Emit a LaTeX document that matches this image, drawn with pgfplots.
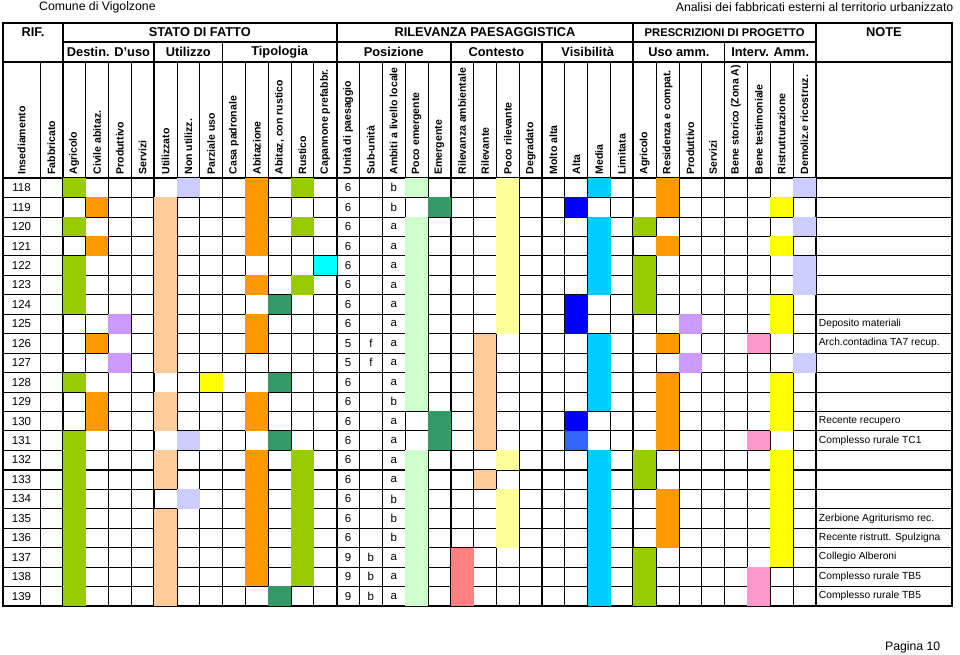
\documentclass[border=0pt]{standalone}
\usepackage{fontspec}
\setmainfont{Liberation Sans}
\usepackage{pgfplots}
\pgfplotsset{compat=1.18}
\usepackage{pgfplotstable}

\definecolor{cLi}{HTML}{99CC00}
\definecolor{cOr}{HTML}{FF9900}
\definecolor{cPe}{HTML}{FFCC99}
\definecolor{cLv}{HTML}{CCCCFF}
\definecolor{cPu}{HTML}{CC99FF}
\definecolor{cYe}{HTML}{FFFF00}
\definecolor{cDg}{HTML}{339966}
\definecolor{cCy}{HTML}{00FFFF}
\definecolor{cLg}{HTML}{CCFFCC}
\definecolor{cLy}{HTML}{FFFF99}
\definecolor{cSk}{HTML}{00CCFF}
\definecolor{cBl}{HTML}{0000FF}
\definecolor{cMb}{HTML}{3366FF}
\definecolor{cPk}{HTML}{FF99CC}
\definecolor{cSa}{HTML}{FF8080}

% one cell = 22.82 x 19.45 px, 1px = 0.75pt
\pgfdeclareplotmark{cell}{%
  \pgfpathrectangle{\pgfpoint{-8.56pt}{-7.3pt}}{\pgfpoint{17.12pt}{14.6pt}}%
  \pgfusepathqfill}

\newcommand{\hdbig}{\bfseries\fontsize{9.6}{10}\selectfont}
\newcommand{\hdsmall}{\bfseries\fontsize{7.9}{8}\selectfont}
\newcommand{\vl}[2]{\node[rotate=90,anchor=west,inner sep=0pt,font=\hdsmall] at (axis cs:#1,117.33) {#2};}

% filled cells: column, row, colour class
\pgfplotstableread{
col row cls
2 118 li
7 118 lv
10 118 or
12 118 li
17 118 lg
21 118 ly
25 118 sk
28 118 or
34 118 lv
3 119 or
6 119 pe
10 119 or
18 119 dg
21 119 ly
24 119 bl
28 119 or
33 119 ye
2 120 li
6 120 pe
10 120 or
12 120 li
17 120 lg
21 120 ly
25 120 sk
27 120 li
34 120 lv
3 121 or
6 121 pe
10 121 or
17 121 lg
21 121 ly
25 121 sk
28 121 or
33 121 ye
2 122 li
6 122 pe
13 122 cy
17 122 lg
21 122 ly
25 122 sk
27 122 li
34 122 lv
2 123 li
6 123 pe
10 123 or
12 123 li
17 123 lg
21 123 ly
25 123 sk
27 123 li
34 123 lv
2 124 li
6 124 pe
11 124 dg
17 124 lg
21 124 ly
24 124 bl
27 124 li
33 124 ye
4 125 pu
6 125 pe
10 125 or
17 125 lg
21 125 ly
24 125 bl
29 125 pu
33 125 ye
3 126 or
6 126 pe
10 126 or
17 126 lg
20 126 pe
25 126 sk
28 126 or
32 126 pk
4 127 pu
6 127 pe
17 127 lg
20 127 pe
25 127 sk
29 127 pu
34 127 lv
2 128 li
8 128 ye
11 128 dg
17 128 lg
20 128 pe
25 128 sk
28 128 or
33 128 ye
3 129 or
6 129 pe
10 129 or
17 129 lg
20 129 pe
25 129 sk
28 129 or
33 129 ye
3 130 or
6 130 pe
10 130 or
18 130 dg
20 130 pe
24 130 bl
28 130 or
33 130 ye
2 131 li
7 131 lv
11 131 dg
18 131 dg
20 131 pe
24 131 mb
28 131 or
32 131 pk
2 132 li
6 132 pe
10 132 or
12 132 li
17 132 lg
21 132 ly
25 132 sk
27 132 li
33 132 ye
2 133 li
6 133 pe
10 133 or
12 133 li
17 133 lg
20 133 pe
25 133 sk
27 133 li
33 133 ye
2 134 li
7 134 lv
10 134 or
12 134 li
17 134 lg
21 134 ly
25 134 sk
28 134 or
33 134 ye
2 135 li
6 135 pe
10 135 or
12 135 li
17 135 lg
21 135 ly
25 135 sk
28 135 or
33 135 ye
2 136 li
6 136 pe
10 136 or
12 136 li
17 136 lg
21 136 ly
25 136 sk
28 136 or
33 136 ye
2 137 li
6 137 pe
10 137 or
12 137 li
17 137 lg
19 137 sa
25 137 sk
27 137 li
33 137 ye
2 138 li
6 138 pe
10 138 or
12 138 li
17 138 lg
19 138 sa
25 138 sk
27 138 li
32 138 pk
2 139 li
6 139 pe
11 139 dg
17 139 lg
19 139 sa
25 139 sk
27 139 li
32 139 pk
}\cells

% row codes: fabbricato, unita di paesaggio, ambito
\pgfplotstableread{
row unita amb
118 6 b
119 6 b
120 6 a
121 6 a
122 6 a
123 6 a
124 6 a
125 6 a
126 5 a
127 5 a
128 6 a
129 6 b
130 6 a
131 6 a
132 6 a
133 6 a
134 6 b
135 6 b
136 6 b
137 9 a
138 9 a
139 9 a
}\codes

\begin{document}
\begin{tikzpicture}
\begin{axis}[
  x=17.115pt, y=14.5875pt, y dir=reverse,
  scale only axis,
  xmin=-0.6214, xmax=40.965, ymin=111.52, ymax=139.5,
  axis on top, clip=false,
  xtick={2,6,9,14,19,23,27,31,35},
  minor xtick={1,3,4,5,7,8,10,11,12,13,15,16,17,18,20,21,22,24,25,26,28,29,30,32,33,34},
  ytick={117.5,127.5,132.5},
  minor ytick={118.5,119.5,120.5,121.5,122.5,123.5,124.5,125.5,126.5,128.5,129.5,130.5,131.5,133.5,134.5,135.5,136.5,137.5,138.5},
  xticklabels={}, yticklabels={},
  major tick length=0pt, minor tick length=0pt,
  grid=both,
  major grid style={black, line width=1.3pt},
  minor grid style={black, line width=0.6pt},
  axis line style={line width=1.4pt},
  scatter/classes={
    li={fill=cLi}, or={fill=cOr}, pe={fill=cPe}, lv={fill=cLv},
    pu={fill=cPu}, ye={fill=cYe}, dg={fill=cDg}, cy={fill=cCy},
    lg={fill=cLg}, ly={fill=cLy}, sk={fill=cSk}, bl={fill=cBl},
    mb={fill=cMb}, pk={fill=cPk}, sa={fill=cSa}},
]
\addplot[scatter, only marks, mark=cell, scatter src=explicit symbolic]
  table[x expr=\thisrow{col}+0.5, y=row, meta=cls]{\cells};

\pgfplotsset{every node near coord/.append style={inner sep=0pt, font=\fontsize{8.6}{9}\selectfont}}
\addplot[only marks, mark=none, nodes near coords, nodes near coords align={center}, point meta=explicit symbolic]
  table[x expr=0.19, y=row, meta=row]{\codes};
\addplot[only marks, mark=none, nodes near coords, nodes near coords align={center}, point meta=explicit symbolic]
  table[x expr=14.5, y=row, meta=unita]{\codes};
\addplot[only marks, mark=none, nodes near coords, nodes near coords align={center}, point meta=explicit symbolic]
  table[x expr=16.5, y=row, meta=amb]{\codes};
\addplot[only marks, mark=none, nodes near coords, nodes near coords align={center}, point meta=explicit symbolic]
  coordinates {(15.5,126) [f] (15.5,127) [f] (15.5,137) [b] (15.5,138) [b] (15.5,139) [b]};
\addplot[only marks, mark=none, nodes near coords, nodes near coords align={west},
  point meta=explicit symbolic, every node near coord/.append style={font=\fontsize{7.7}{8}\selectfont}]
  coordinates {
    (35.12,125) [Deposito materiali]
    (35.12,126) [Arch.contadina TA7 recup.]
    (35.12,130) [Recente recupero]
    (35.12,131) [Complesso rurale TC1]
    (35.12,135) [Zerbione Agriturismo rec.]
    (35.12,136) [Recente ristrutt. Spulzigna]
    (35.12,137) [Collegio Alberoni]
    (35.12,138) [Complesso rurale TB5]
    (35.12,139) [Complesso rurale TB5]};

% header rows 1-2
\draw[line width=1.4pt] (axis cs:-0.6214,109.55) rectangle (axis cs:40.965,111.52);
\draw[line width=1.3pt] (axis cs:2,110.49) -- (axis cs:35,110.49);
\draw[line width=1.3pt] (axis cs:2,109.55) -- (axis cs:2,111.52);
\draw[line width=1.3pt] (axis cs:14,109.55) -- (axis cs:14,111.52);
\draw[line width=1.3pt] (axis cs:27,109.55) -- (axis cs:27,111.52);
\draw[line width=1.3pt] (axis cs:35,109.55) -- (axis cs:35,111.52);
\draw[line width=1.3pt] (axis cs:6,110.49) -- (axis cs:6,111.52);
\draw[line width=1.3pt] (axis cs:9,110.49) -- (axis cs:9,111.52);
\draw[line width=1.3pt] (axis cs:19,110.49) -- (axis cs:19,111.52);
\draw[line width=1.3pt] (axis cs:23,110.49) -- (axis cs:23,111.52);
\draw[line width=1.3pt] (axis cs:31,110.49) -- (axis cs:31,111.52);

\node[font=\hdbig] at (axis cs:0.69,110.02) {RIF.};
\node[font=\hdbig] at (axis cs:8,110.02) {STATO DI FATTO};
\node[font=\hdbig] at (axis cs:20.5,110.02) {RILEVANZA PAESAGGISTICA};
\node[font=\bfseries\fontsize{8.4}{9}\selectfont] at (axis cs:31,110.02) {PRESCRIZIONI DI PROGETTO};
\node[font=\hdbig] at (axis cs:37.98,110.02) {NOTE};
\node[font=\hdbig] at (axis cs:4,111.04) {Destin. D'uso};
\node[font=\hdbig] at (axis cs:7.5,111.04) {Utilizzo};
\node[font=\hdbig] at (axis cs:11.5,111.04) {Tipologia};
\node[font=\hdbig] at (axis cs:16.5,111.04) {Posizione};
\node[font=\hdbig] at (axis cs:21,111.04) {Contesto};
\node[font=\hdbig] at (axis cs:25,111.04) {Visibilità};
\node[font=\hdbig] at (axis cs:29,111.04) {Uso amm.};
\node[font=\hdbig] at (axis cs:33,111.04) {Interv. Amm.};

% header row 3, vertical labels
\vl{0.19}{Insediamento}
\vl{1.5}{Fabbricato}
\vl{2.5}{Agricolo}
\vl{3.5}{Civile abitaz.}
\vl{4.5}{Produttivo}
\vl{5.5}{Servizi}
\vl{6.5}{Utilizzato}
\vl{7.5}{Non utilizz.}
\vl{8.5}{Parziale uso}
\vl{9.5}{Casa padronale}
\vl{10.5}{Abitazione}
\vl{11.5}{Abitaz, con rustico}
\vl{12.5}{Rustico}
\vl{13.5}{Capannone prefabbr.}
\vl{14.5}{Unità di paesaggio}
\vl{15.5}{Sub-unità}
\vl{16.5}{Ambiti a livello locale}
\vl{17.5}{Poco emergente}
\vl{18.5}{Emergente}
\vl{19.5}{Rilevanza ambientale}
\vl{20.5}{Rilevante}
\vl{21.5}{Poco rilevante}
\vl{22.5}{Degradato}
\vl{23.5}{Molto alta}
\vl{24.5}{Alta}
\vl{25.5}{Media}
\vl{26.5}{Limitata}
\vl{27.5}{Agricolo}
\vl{28.5}{Residenza e compat.}
\vl{29.5}{Produttivo}
\vl{30.5}{Servizi}
\vl{31.5}{Bene storico (Zona A)}
\vl{32.5}{Bene testimoniale}
\vl{33.5}{Ristrutturazione}
\vl{34.5}{Demoliz.e ricostruz.}

% page texts
\node[anchor=west, font=\fontsize{9.2}{10}\selectfont] at (axis cs:0.76,108.71) {Comune di Vigolzone};
\node[anchor=east, font=\fontsize{9.2}{10}\selectfont] at (axis cs:41.23,108.71) {Analisi dei fabbricati esterni al territorio urbanizzato};
\node[anchor=east, font=\fontsize{9.2}{10}\selectfont] at (axis cs:40.66,141.61) {Pagina 10};

\coordinate (bbTL) at (axis cs:-0.7528,108.348);
\coordinate (bbBR) at (axis cs:41.316,142.024);
\end{axis}
\pgfresetboundingbox
\path[use as bounding box] (bbTL) rectangle (bbBR);
\end{tikzpicture}
\end{document}
